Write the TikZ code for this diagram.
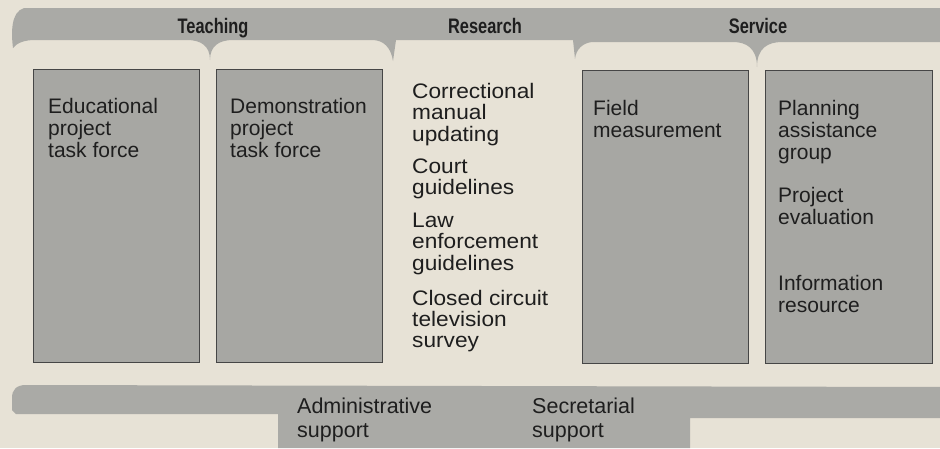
\documentclass[tikz,border=0pt]{standalone}
\usepackage{fontspec}
\setmainfont{Liberation Sans}
\newfontfamily\hdfont[FakeStretch=0.78]{Liberation Sans}
\newfontfamily\resfont[FakeStretch=1.08]{Liberation Sans}
\definecolor{paper}{RGB}{231,226,214}
\definecolor{band}{RGB}{170,170,166}
\definecolor{boxfill}{RGB}{167,167,163}
\definecolor{boxline}{RGB}{70,70,70}
\definecolor{ink}{RGB}{30,30,30}
\newcommand{\ml}[1]{\begin{tabular}[t]{@{}l@{}}#1\end{tabular}}
\begin{document}
\begin{tikzpicture}[x=1pt,y=-1pt,
  unitbox/.style={draw=boxline, fill=boxfill, line width=1.2pt, anchor=north west,
    inner sep=0pt, minimum width=166pt, minimum height=293pt},
  boxtext/.style={anchor=base west, inner sep=0pt, text=ink, font=\fontsize{21}{22}\selectfont},
  restext/.style={anchor=base west, inner sep=0pt, text=ink, font=\resfont\fontsize{21}{21.3}\selectfont},
  suptext/.style={anchor=base west, inner sep=0pt, text=ink, font=\fontsize{21.5}{24}\selectfont},
  head/.style={anchor=base, inner sep=0pt, text=ink, font=\hdfont\bfseries\fontsize{21}{24}\selectfont}]
\useasboundingbox (0,0) rectangle (940,448);
\fill[paper] (0,0) rectangle (940,448);
% top band with braces
\fill[band] (24,8) -- (945,8) -- (945,42) -- (782,42)
  .. controls (768,42) and (757,48) .. (757,67)
  .. controls (757,48) and (746,42) .. (733,42) -- (592,42)
  .. controls (583,43) and (576,49) .. (575,59) -- (573,40) -- (396,40) -- (393,61)
  .. controls (391,48) and (384,40) .. (372,40) -- (233,40)
  .. controls (219,40) and (210,46) .. (210,60)
  .. controls (210,46) and (201,40) .. (187,40) -- (35,40)
  .. controls (24,40) and (17,43) .. (13,48)
  .. controls (11,32) and (11,12) .. (24,8) -- cycle;
% bottom band
\fill[band] (945,387) -- (26,385) .. controls (16,385) and (12,390) .. (12,398)
  -- (12,410) -- (16,414) -- (278,414) -- (278,448) -- (690,448) -- (690,418) -- (945,418) -- cycle;
% headers
\node[head] (teach) at (213,33) {Teaching};
\node[head] (res) at (485,33) {Research};
\node[head] (serv) at (758,33) {Service};
% boxes
\node[unitbox] (b1) at (33,69) {};
\node[unitbox] (b2) at (216,69) {};
\node[unitbox] (b3) at (582,70) {};
\node[unitbox, minimum width=167pt] (b4) at (765,70) {};
% box texts
\node[boxtext] (t1) at (48,113) {\ml{Educational\\project\\task force}};
\node[boxtext] (t2) at (230,113) {\ml{Demonstration\\project\\task force}};
\node[boxtext] (t3) at (593,115) {\ml{Field\\measurement}};
\node[boxtext] (t4a) at (778,115) {\ml{Planning\\assistance\\group}};
\node[boxtext] (t4b) at (778,202) {\ml{Project\\evaluation}};
\node[boxtext] (t4c) at (778,290) {\ml{Information\\resource}};
% research column
\node[restext] (r1) at (412,98) {\ml{Correctional\\manual\\updating}};
\node[restext] (r2) at (412,173) {\ml{Court\\guidelines}};
\node[restext] (r3) at (412,227) {\ml{Law\\enforcement\\guidelines}};
\node[restext] (r4) at (412,305) {\ml{Closed circuit\\television\\survey}};
% support
\node[suptext] (s1) at (297,413) {\ml{Administrative\\support}};
\node[suptext] (s2) at (532,413) {\ml{Secretarial\\support}};
\end{tikzpicture}
\end{document}
